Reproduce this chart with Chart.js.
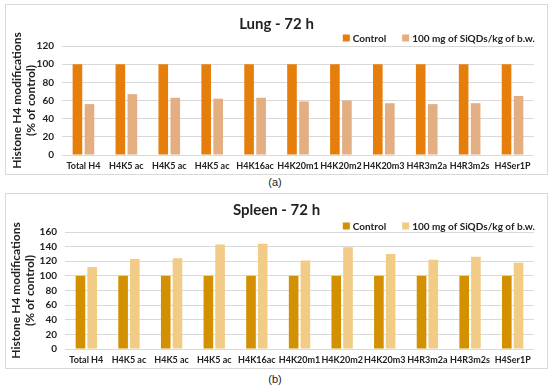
<!DOCTYPE html>
<html>
<head>
<meta charset="utf-8">
<script src="https://cdn.jsdelivr.net/npm/chart.js@4.4.1/dist/chart.umd.min.js"></script>
<style>
  html, body { margin: 0; padding: 0; background: #fff; }
  body { width: 550px; height: 387px; position: relative; overflow: hidden; }
  .panel { position: absolute; left: 5px; width: 543px; border: 1px solid #d9d9d9; box-sizing: border-box; }
  .panel canvas { display: block; }
  .cap { position: absolute; left: 0; width: 550px; text-align: center;
         font: 11px "Liberation Sans", Arial, sans-serif; color: #222; }
</style>
</head>
<body>
<div class="panel" style="top:4px;height:171px"><canvas id="lung" width="541" height="169"></canvas></div>
<div class="cap" style="top:176px">(a)</div>
<div class="panel" style="top:193px;height:176px"><canvas id="spleen" width="541" height="174"></canvas></div>
<div class="cap" style="top:373px">(b)</div>

<script>
// ─── Data ────────────────────────────────────────────────────────────────────
const categories = ['Total H4', 'H4K5 ac', 'H4K5 ac', 'H4K5 ac', 'H4K16ac', 'H4K20m1',
                    'H4K20m2', 'H4K20m3', 'H4R3m2a', 'H4R3m2s', 'H4Ser1P'];
const seriesNames = ['Control', '100 mg of SiQDs/kg of b.w.'];

const lungControl = [100, 100, 100, 100, 100, 100, 100, 100, 100, 100, 100];
const lungTreated = [56, 67, 63, 62, 63, 59, 60, 57, 56, 57, 65];

const spleenControl = [100, 100, 100, 100, 100, 100, 100, 100, 100, 100, 100];
const spleenTreated = [112, 123, 124, 143, 144, 121, 139, 130, 122, 126, 118];

const yTitle = ['Histone H4 modifications', '(% of control)'];
const FONT = 'Lato, "Open Sans", sans-serif';

// ─── Custom plugin: title + legend drawn inside the panel ────────────────────
Chart.register({
  id: 'panelHead',
  afterDraw(chart) {
    const opts = chart.options.plugins?.panelHead;
    if (!opts?.title) return;
    const { ctx } = chart;
    ctx.save();
    ctx.fillStyle = '#222';
    ctx.font = `bold 15px ${FONT}`;
    ctx.textAlign = 'center'; ctx.textBaseline = 'middle';
    ctx.fillText(opts.title, chart.width / 2, opts.titleY);

    // legend, right aligned
    ctx.font = `bold 10px ${FONT}`;
    ctx.textAlign = 'left';
    const sw = 7, gapTxt = 3, gapItem = 16;
    const items = chart.data.datasets.map(d => ({ label: d.label, color: d.backgroundColor, w: ctx.measureText(d.label).width }));
    let total = items.reduce((s, it) => s + sw + gapTxt + it.w, 0) + gapItem * (items.length - 1);
    let x = opts.legendRight - total;
    items.forEach(it => {
      ctx.fillStyle = it.color;
      ctx.fillRect(x, opts.legendY - sw / 2, sw, sw);
      ctx.fillStyle = '#222';
      ctx.fillText(it.label, x + sw + gapTxt, opts.legendY + 0.5);
      x += sw + gapTxt + it.w + gapItem;
    });
    ctx.restore();
  }
});

// ─── Panel chart ─────────────────────────────────────────────────────────────
function makePanel(canvasId, ctrl, treat, colors, o) {
  const el = document.getElementById(canvasId);
  return new Chart(el, {
    type: 'bar',
    data: {
      labels: categories,
      datasets: [
        { label: seriesNames[0], data: ctrl, backgroundColor: colors[0],
          categoryPercentage: o.catPct, barPercentage: o.barPct },
        { label: seriesNames[1], data: treat, backgroundColor: colors[1],
          categoryPercentage: o.catPct, barPercentage: o.barPct },
      ]
    },
    options: {
      responsive: false, animation: false, devicePixelRatio: 1,
      layout: { padding: { top: o.top, right: o.right, left: 0, bottom: 0 } },
      plugins: {
        legend: { display: false },
        title: { display: false },
        tooltip: { enabled: false },
        panelHead: { title: o.title, titleY: o.titleY, legendY: o.legendY, legendRight: 529 },
      },
      scales: {
        x: {
          grid: { display: false, drawTicks: false },
          border: { display: false },
          ticks: { color: '#222', padding: 6, font: { family: FONT, size: 9, weight: 'bold' }, maxRotation: 0, autoSkip: false },
          afterFit(s) { s.height = o.xH; }
        },
        y: {
          min: 0, max: o.max,
          grid: { color: '#d9d9d9', drawTicks: false },
          border: { display: false },
          ticks: { stepSize: 20, autoSkip: false, color: '#222', padding: 8, font: { family: FONT, size: 10, weight: 'bold' } },
          title: { display: true, text: yTitle, color: '#222', padding: { top: o.ytPad, bottom: 0 },
                   font: { family: FONT, size: 12, weight: 'bold', lineHeight: 1.1 } },
          afterFit(s) { s.width = o.left; }
        }
      }
    }
  });
}

makePanel('lung', lungControl, lungTreated, ['#e67e0c', '#e2ae82'], {
  title: 'Lung - 72 h', titleY: 19, legendY: 33, max: 120,
  top: 41, right: 13, left: 56, xH: 19, ytPad: 5, catPct: 0.56, barPct: 0.8
});

makePanel('spleen', spleenControl, spleenTreated, ['#d39000', '#f2cc86'], {
  title: 'Spleen - 72 h', titleY: 16, legendY: 32, max: 160,
  top: 38, right: 13, left: 59, xH: 19, ytPad: 4, catPct: 0.55, barPct: 0.82
});
</script>
</body>
</html>
